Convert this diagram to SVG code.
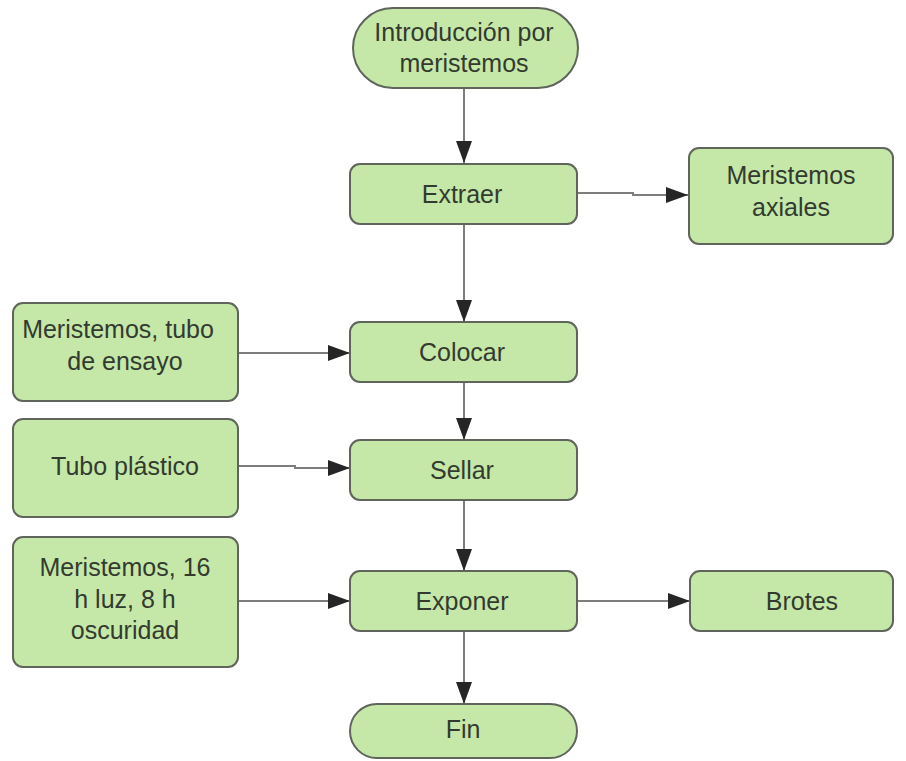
<svg xmlns="http://www.w3.org/2000/svg" width="906" height="761" viewBox="0 0 906 761">
<style>
.n{fill:#c5e8a8;stroke:#5f655b;stroke-width:2}
.t{font-family:"Liberation Sans",Arial,sans-serif;font-size:25px;fill:#333a30;text-anchor:middle}
.c{fill:none;stroke:#7d7d7d;stroke-width:2}
</style>
<defs>
<marker id="ah" markerUnits="userSpaceOnUse" markerWidth="22" markerHeight="16" refX="22" refY="8" orient="auto">
<path d="M0,0 L22,8 L0,16 Z" fill="#262626"/>
</marker>
</defs>
<rect width="906" height="761" fill="#ffffff"/>
<g id="connectors">
<path class="c" d="M464,88 V163" marker-end="url(#ah)"/>
<path class="c" d="M577,193 H633 V195 H688" marker-end="url(#ah)"/>
<path class="c" d="M464,224 V322" marker-end="url(#ah)"/>
<path class="c" d="M238,353 H350" marker-end="url(#ah)"/>
<path class="c" d="M464,382 V440" marker-end="url(#ah)"/>
<path class="c" d="M238,466 H295 V468 H350" marker-end="url(#ah)"/>
<path class="c" d="M464,500 V571" marker-end="url(#ah)"/>
<path class="c" d="M238,601 H350" marker-end="url(#ah)"/>
<path class="c" d="M577,601 H690" marker-end="url(#ah)"/>
<path class="c" d="M464,631 V704" marker-end="url(#ah)"/>
</g>
<g id="inicio">
<rect class="n" x="353" y="8" width="225" height="80" rx="40"/>
<text class="t" x="464" y="41">Introducción por</text>
<text class="t" x="464" y="72">meristemos</text>
</g>
<g id="extraer">
<rect class="n" x="350" y="164" width="227" height="60" rx="10"/>
<text class="t" x="462" y="203">Extraer</text>
</g>
<g id="axiales">
<rect class="n" x="689" y="148" width="204" height="96" rx="10"/>
<text class="t" x="791" y="184">Meristemos</text>
<text class="t" x="791" y="216">axiales</text>
</g>
<g id="meristemos-tubo">
<rect class="n" x="13" y="303" width="225" height="98" rx="10"/>
<text class="t" x="118" y="338">Meristemos, tubo</text>
<text class="t" x="125" y="370">de ensayo</text>
</g>
<g id="colocar">
<rect class="n" x="350" y="322" width="227" height="60" rx="10"/>
<text class="t" x="462" y="361">Colocar</text>
</g>
<g id="tubo-plastico">
<rect class="n" x="13" y="419" width="225" height="98" rx="10"/>
<text class="t" x="125" y="475">Tubo plástico</text>
</g>
<g id="sellar">
<rect class="n" x="350" y="440" width="227" height="60" rx="10"/>
<text class="t" x="462" y="479">Sellar</text>
</g>
<g id="meristemos-luz">
<rect class="n" x="13" y="537" width="225" height="130" rx="10"/>
<text class="t" x="125" y="576">Meristemos, 16</text>
<text class="t" x="125" y="608">h luz, 8 h</text>
<text class="t" x="125" y="639">oscuridad</text>
</g>
<g id="exponer">
<rect class="n" x="350" y="571" width="227" height="60" rx="10"/>
<text class="t" x="462" y="610">Exponer</text>
</g>
<g id="brotes">
<rect class="n" x="690" y="571" width="203" height="60" rx="10"/>
<text class="t" x="802" y="610">Brotes</text>
</g>
<g id="fin">
<rect class="n" x="350" y="704" width="227" height="54" rx="27"/>
<text class="t" x="463" y="738">Fin</text>
</g>
</svg>
